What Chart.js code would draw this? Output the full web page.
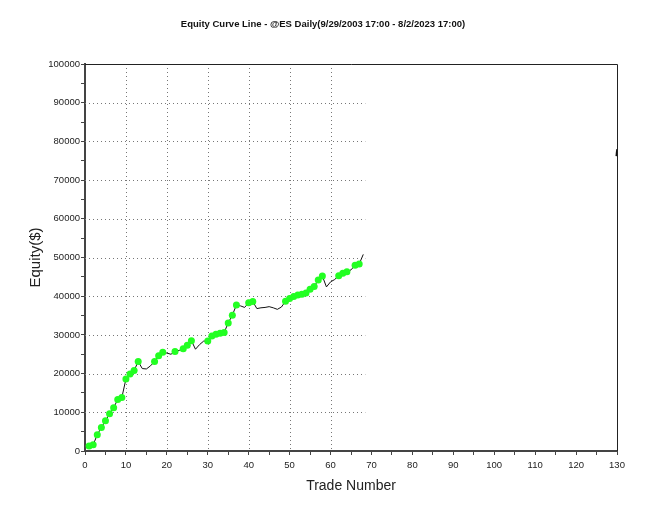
<!DOCTYPE html>
<html>
<head>
<meta charset="utf-8">
<script src="https://cdn.jsdelivr.net/npm/chart.js@4.4.0/dist/chart.umd.min.js"></script>
<style>
  html, body { margin: 0; padding: 0; background: #fff; }
  #wrap { width: 672px; height: 531px; }
</style>
</head>
<body>
<div id="wrap"><canvas id="canvas"></canvas></div>
<script>
// equity after each closed trade
var equity = [
  1300, 1600, 4200, 6100, 7800, 9600, 11200, 13300, 13800, 18600,
  19900, 20800, 23100, 21300, 21200, 22000, 23100, 24600, 25500, 25300,
  25000, 25700, 26000, 26400, 27300, 28500, 26300, 27500, 28400, 28400,
  29700, 30200, 30400, 30600, 33100, 35100, 37700, 37500, 37100, 38300,
  38600, 36800, 37000, 37100, 37300, 37000, 36600, 37200, 38700, 39400,
  39900, 40300, 40500, 40800, 41800, 42500, 44200, 45200, 42400, 43700,
  44300, 45300, 45900, 46300, 46800, 48000, 48300, 50800
];
// trades that carry a green marker
var markedTrades = [
  1, 2, 3, 4, 5, 6, 7, 8, 9, 10, 11, 12, 13, 17, 18, 19, 22, 24, 25, 26,
  30, 31, 32, 33, 34, 35, 36, 37, 40, 41, 49, 50, 51, 52, 53, 54, 55, 56,
  57, 58, 62, 63, 64, 66, 67
];
// the little stub drawn at the far right edge
var tailTrades = [129.8, 130];
var tailEquity = [76200, 78000];

var xTicksMax = 130;
var yTicksMax = 100000;
var chartTitle = 'Equity Curve Line - @ES Daily(9/29/2003 17:00 - 8/2/2023 17:00)';

var points = equity.map(function (v, i) { return { x: i + 1, y: v }; });
var tail = tailTrades.map(function (t, i) { return { x: t, y: tailEquity[i] }; });
var dotRadius = equity.map(function (v, i) {
  return markedTrades.indexOf(i + 1) >= 0 ? 3.5 : 0;
});

// dotted grid only over the traded range, the closed frame and the title
var framePlugin = {
  id: 'frame',
  beforeDatasetsDraw: function (chart) {
    var ctx = chart.ctx, xs = chart.scales.x, ys = chart.scales.y;
    var lastX = xs.getPixelForValue(equity.length + 0.5);
    ctx.save();
    ctx.strokeStyle = '#777';
    ctx.lineWidth = 1;
    ctx.setLineDash([1, 3]);
    for (var v = 10000; v < yTicksMax; v += 10000) {
      var py = Math.round(ys.getPixelForValue(v)) + 0.5;
      ctx.beginPath(); ctx.moveTo(xs.left, py); ctx.lineTo(lastX, py); ctx.stroke();
    }
    for (var t = 10; t <= equity.length; t += 10) {
      var px = Math.round(xs.getPixelForValue(t)) + 0.5;
      ctx.beginPath(); ctx.moveTo(px, ys.top); ctx.lineTo(px, ys.bottom); ctx.stroke();
    }
    ctx.restore();
  },
  afterDraw: function (chart) {
    var ctx = chart.ctx, a = chart.chartArea;
    ctx.save();
    ctx.strokeStyle = '#222';
    ctx.lineWidth = 1;
    ctx.beginPath();
    ctx.moveTo(a.left, a.top + 0.5); ctx.lineTo(a.right + 0.5, a.top + 0.5); ctx.lineTo(a.right + 0.5, a.bottom);
    ctx.stroke();
    // title sits off-centre in the original, so place it by hand
    ctx.fillStyle = '#111';
    ctx.font = 'bold 9.5px "Liberation Sans", Arial, sans-serif';
    ctx.textAlign = 'center';
    ctx.textBaseline = 'middle';
    ctx.fillText(chartTitle, 323, 24);
    ctx.restore();
  }
};

var tickFont = { family: 'Liberation Sans, Arial, sans-serif', size: 9.5 };

var ctx = document.getElementById('canvas').getContext('2d');
window.equityChart = new Chart(ctx, {
  type: 'line',
  data: {
    datasets: [{
      data: points,
      borderColor: '#111',
      borderWidth: 1,
      pointRadius: dotRadius,
      pointBackgroundColor: '#22ff22',
      pointBorderColor: '#22ff22',
      pointBorderWidth: 0,
      tension: 0
    }, {
      data: tail,
      borderColor: '#111',
      borderWidth: 1.5,
      pointRadius: 0
    }]
  },
  options: {
    responsive: true,
    maintainAspectRatio: false,
    animation: false,
    layout: { padding: { top: 64, right: 55, bottom: 0, left: 0 } },
    plugins: {
      legend: { display: false },
      tooltip: { enabled: false },
      title: { display: false }
    },
    scales: {
      x: {
        type: 'linear',
        min: 0,
        max: xTicksMax,
        afterFit: function (s) { s.height = 80; },
        border: { display: true, color: '#444', width: 2 },
        grid: { drawOnChartArea: false, drawTicks: true, tickLength: 4, color: '#444' },
        ticks: {
          stepSize: 5,
          autoSkip: false,
          maxRotation: 0,
          padding: 5,
          color: '#222',
          font: tickFont,
          callback: function (v) { return v % 10 == 0 ? v : ''; }
        },
        title: {
          display: true,
          text: 'Trade Number',
          color: '#222',
          font: { family: 'Liberation Sans, Arial, sans-serif', size: 14 },
          padding: { top: 0, bottom: 36 }
        }
      },
      y: {
        min: 0,
        max: yTicksMax,
        afterFit: function (s) { s.width = 85; },
        border: { display: true, color: '#444', width: 2 },
        grid: { drawOnChartArea: false, drawTicks: true, tickLength: 4, color: '#444' },
        ticks: {
          stepSize: 5000,
          autoSkip: false,
          padding: 1,
          color: '#222',
          font: tickFont,
          callback: function (v) { return v % 10000 == 0 ? v : ''; }
        },
        title: {
          display: true,
          text: 'Equity($)',
          color: '#222',
          font: { family: 'Liberation Sans, Arial, sans-serif', size: 15 },
          padding: { top: 27, bottom: 0 }
        }
      }
    }
  },
  plugins: [framePlugin]
});
</script>
</body>
</html>
